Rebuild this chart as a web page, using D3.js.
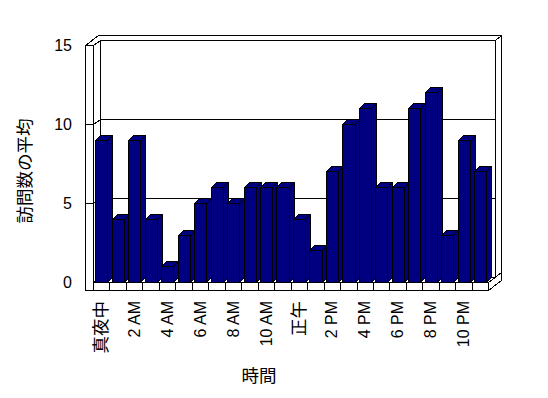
<!DOCTYPE html>
<html><head><meta charset="utf-8">
<script src="https://cdn.jsdelivr.net/npm/d3@7"></script>
<style>
body{margin:0;background:#fff;}
svg{display:block;}
text{font-family:"Liberation Sans",Arial,"Noto Sans CJK JP",sans-serif;fill:#000;}
</style></head>
<body>
<svg id="c" width="548" height="398"></svg>
<script>
// ---- data ----
const hours = ["真夜中","1 AM","2 AM","3 AM","4 AM","5 AM","6 AM","7 AM","8 AM","9 AM","10 AM","11 AM",
               "正午","1 PM","2 PM","3 PM","4 PM","5 PM","6 PM","7 PM","8 PM","9 PM","10 PM","11 PM"];
const visits = [9,4,9,4,1,3,5,6,5,6,6,6,4,2,7,10,11,6,6,11,12,3,9,7];
const valueTicks = [0,5,10,15];
const xTitle = "時間";
const yTitle = "訪問数の平均";

(function(){
// ---- layout ----
const svg = d3.select("#c");
const pL = 93, pR = 488.3, base = 282, pT = 45;
const D1 = [7,5], D2 = [6,5], BD = [5,5];
const x = d3.scaleBand().domain(d3.range(hours.length)).range([pL, pR]).padding(0);
const y = d3.scaleLinear().domain([0,15]).range([base, pT]);
const bw = x.bandwidth();
const s = v => Math.round(v) + 0.5;
const line = d3.line().x(p => s(p[0])).y(p => s(p[1]));
const poly = (pts, fill) => svg.append("path").attr("d", line(pts) + "Z")
  .attr("fill", fill).attr("stroke", "#000").attr("stroke-width", 1)
  .attr("shape-rendering","crispEdges");

const wl = 85; // outer edge of left wall
const bx0 = pL + D1[0], bx1 = pR + D1[0];
const yb = v => y(v) - D1[1];
// back wall (front face)
poly([[bx0, yb(15)],[bx1, yb(15)],[bx1, yb(0)],[bx0, yb(0)]], "#fff");
// back wall right face
poly([[bx1, yb(15)],[bx1+D2[0], yb(15)-D2[1]],[bx1+D2[0], yb(0)-D2[1]],[bx1, yb(0)]], "#fff");
// top of left wall + back wall
poly([[wl, y(15)],[pL, y(15)],[bx0, yb(15)],[bx1, yb(15)],[bx1+D2[0], yb(15)-D2[1]],[wl+D1[0]+D2[0], yb(15)-D2[1]]], "#fff");
// left wall inner face
poly([[pL, y(15)],[bx0, yb(15)],[bx0, yb(0)],[pL, y(0)]], "#fff");
// floor top
poly([[pL, base],[pR, base],[bx1, yb(0)],[bx0, yb(0)]], "#fff");
// floor right face
poly([[pR, base],[bx1+D2[0], yb(0)-D2[1]],[bx1+D2[0], yb(0)-D2[1]+8],[pR, base+8]], "#fff");
// floor front face
poly([[pL, base],[pR, base],[pR, base+8],[pL, base+8]], "#fff");
// left wall front face
poly([[wl, y(15)],[pL, y(15)],[pL, base+8],[wl, base+8]], "#fff");

// gridlines
valueTicks.filter(v => v > 0 && v < 15).forEach(v => {
  svg.append("path").attr("d", line([[wl, y(v)],[pL, y(v)],[bx0, yb(v)],[bx1, yb(v)]]))
    .attr("fill","none").attr("stroke","#000").attr("shape-rendering","crispEdges");
});
// category ticks on floor front
d3.range(1, hours.length).forEach(i => {
  svg.append("path").attr("d", line([[x(i), base],[x(i), base+8]]))
    .attr("stroke","#000").attr("shape-rendering","crispEdges");
});

// bars
const navy = "#000080";
visits.forEach((v, i) => {
  const x0 = x(i) + bw*0.14, x1 = x0 + bw*0.74, yt = y(v), y0 = y(0);
  poly([[x1, y0],[x1, yt],[x1+BD[0], yt-BD[1]],[x1+BD[0], y0-BD[1]]], navy);
  poly([[x0, yt],[x1, yt],[x1+BD[0], yt-BD[1]],[x0+BD[0], yt-BD[1]]], navy);
  poly([[x0, y0],[x1, y0],[x1, yt],[x0, yt]], navy);
});

// value axis labels
const ya = svg.append("g").attr("transform", `translate(${wl},0)`)
  .call(d3.axisLeft(y).tickValues(valueTicks).tickSize(0).tickPadding(13).tickFormat(d3.format("d")));
ya.select(".domain").remove();
ya.selectAll("text").attr("fill","#000").style("font-size","16px").style("font-family",'"Liberation Sans",Arial,sans-serif');

// category labels
const xa = svg.append("g").attr("transform", `translate(0,${base+8})`)
  .call(d3.axisBottom(x).tickValues(d3.range(0, hours.length, 2)).tickSize(0).tickFormat(i => hours[i]));
xa.select(".domain").remove();
xa.selectAll("text")
  .attr("fill","#000")
  .attr("transform","rotate(-90)").attr("x",-11).attr("y",0).attr("dy","0.35em")
  .style("text-anchor","end")
  .style("font-size", d => /[^\x00-\x7f]/.test(hours[d]) ? "17.5px" : "16px")
  .style("font-family", d => /[^\x00-\x7f]/.test(hours[d]) ? '"Noto Sans CJK JP",sans-serif' : '"Liberation Sans",Arial,sans-serif');

// titles
svg.append("text").attr("x", 259).attr("y", 376).attr("dy","0.35em").attr("text-anchor","middle")
  .style("font-size","17.5px").style("font-family",'"Noto Sans CJK JP",sans-serif').text(xTitle);
svg.append("text").attr("transform","translate(25,171) rotate(-90)").attr("dy","0.35em").attr("text-anchor","middle")
  .style("font-size","17.5px").style("font-family",'"Noto Sans CJK JP",sans-serif').text(yTitle);
})();
</script>
</body></html>
